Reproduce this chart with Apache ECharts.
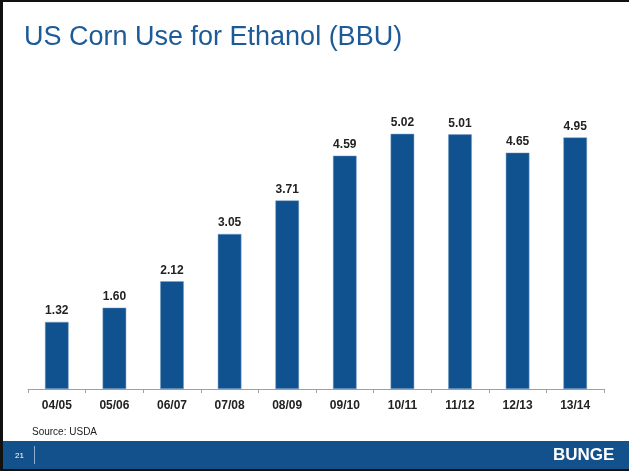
<!DOCTYPE html>
<html><head><meta charset="utf-8">
<script src="https://cdn.jsdelivr.net/npm/echarts@6/dist/echarts.min.js"></script>
<style>html,body{margin:0;padding:0;background:#fff}#c{width:629px;height:471px}</style>
</head><body><div id="c"></div>
<script>
const categories = ['04/05','05/06','06/07','07/08','08/09','09/10','10/11','11/12','12/13','13/14'];
const values = [1.32, 1.60, 2.12, 3.05, 3.71, 4.59, 5.02, 5.01, 4.65, 4.95];
const title = 'US Corn Use for Ethanol (BBU)';
const source = 'Source: USDA';
const pageNo = '21';

const chart = echarts.init(document.getElementById('c'), null, {renderer:'canvas'});
chart.setOption({
  animation:false,
  backgroundColor:'#fff',
  title:{text:title, left:19, top:19, textStyle:{fontFamily:'Liberation Sans, Arial', fontSize:27, fontWeight:'normal', color:'#1d5a98'}},
  grid:{left:28, right:25, top:84, bottom:82},
  xAxis:{type:'category', data:categories,
    axisLine:{lineStyle:{color:'#a0a0a0'}},
    axisTick:{show:true, length:4, lineStyle:{color:'#a0a0a0'}},
    axisLabel:{fontFamily:'Liberation Sans, Arial', fontSize:12, fontWeight:'bold', color:'#222', margin:11}},
  yAxis:{type:'value', min:0, max:6, show:false, splitLine:{show:false}},
  series:[{type:'bar', data:values, barWidth:'41%',
    itemStyle:{color:'#10518f', borderColor:'#7fa2c6', borderWidth:0.5},
    label:{show:true, position:'top', distance:5, formatter:p=>p.value.toFixed(2),
      fontFamily:'Liberation Sans, Arial', fontSize:12, fontWeight:'bold', color:'#222'}}],
  graphic:[
    {type:'rect', shape:{x:0,y:441,width:629,height:30}, style:{fill:'#12518b'}, z:10},
    {type:'rect', shape:{x:0,y:469,width:629,height:2}, style:{fill:'#111'}, z:11},
    {type:'rect', shape:{x:0,y:0,width:629,height:2}, style:{fill:'#111'}, z:11},
    {type:'rect', shape:{x:0,y:0,width:3,height:471}, style:{fill:'#111'}, z:11},
    {type:'text', left:32, top:427, style:{text:source, fontFamily:'Liberation Sans, Arial', fontSize:10, fill:'#222'}, z:11},
    {type:'text', left:15, top:452, style:{text:pageNo, fontFamily:'Liberation Sans, Arial', fontSize:8, fill:'#fff'}, z:11},
    {type:'rect', shape:{x:34,y:446,width:1,height:18}, style:{fill:'#8fb0d0'}, z:11},
    {type:'text', left:553, top:447, style:{text:'BUNGE', fontFamily:'Liberation Sans, Arial', fontSize:17, fontWeight:'bold', fill:'#fff', letterSpacing:1}, z:11}
  ]
});
</script></body></html>
